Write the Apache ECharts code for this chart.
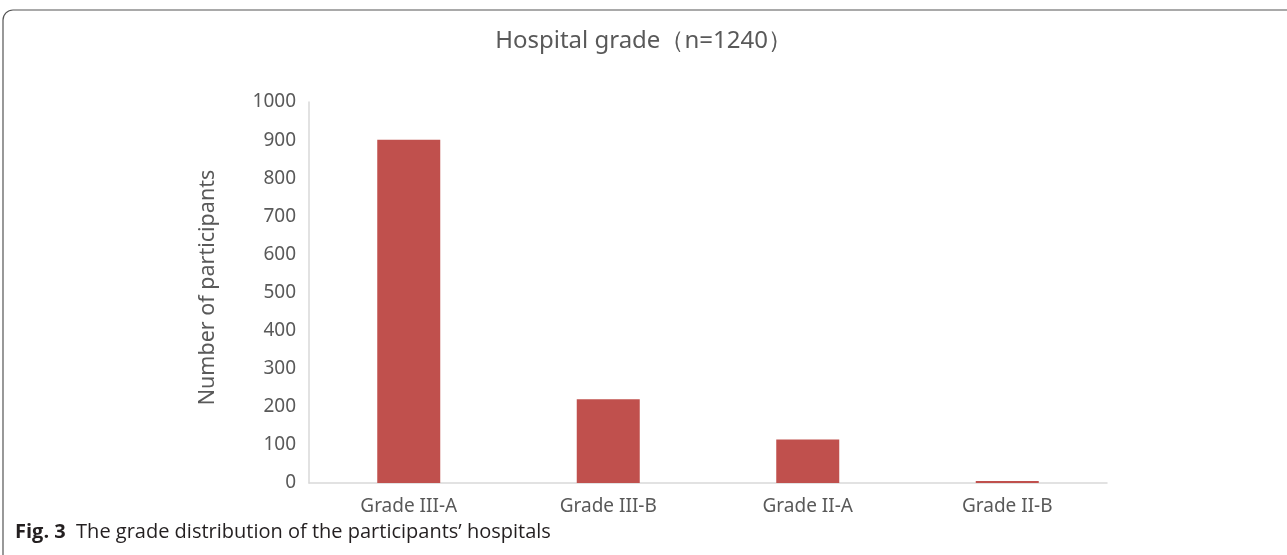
<!DOCTYPE html>
<html>
<head>
<meta charset="utf-8">
<script src="https://cdn.jsdelivr.net/npm/echarts@6/dist/echarts.min.js"></script>
<style>
  html, body { margin: 0; padding: 0; background: #fff; }
  #chart { width: 1287px; height: 555px; }
</style>
</head>
<body>
<div id="chart"></div>
<script>
// hospital grade distribution
const grades = ['Grade III-A', 'Grade III-B', 'Grade II-A', 'Grade II-B']
const participants = [901, 220, 114, 5]
const yTicks = { min: 0, max: 1000, interval: 100 }

const chart = echarts.init(document.getElementById('chart'))

chart.setOption({
  animation: false,
  title: [{
    text: 'Hospital grade（n=1240）',
    left: 'center',
    top: 24,
    textStyle: { fontFamily: 'Noto Sans', fontSize: 24, fontWeight: 'normal', color: '#595959' }
  }, {
    text: '{b|Fig. 3}  The grade distribution of the participants’ hospitals',
    left: 10,
    top: 517,
    textStyle: {
      fontFamily: 'Open Sans', fontSize: 20, fontWeight: 'normal', color: '#231f20',
      rich: {
        b: { fontFamily: 'Open Sans', fontSize: 20, fontWeight: 'bold', color: '#231f20' }
      }
    }
  }],
  graphic: [{
    type: 'rect',
    shape: { x: 3, y: 10, width: 1320, height: 600, r: 10 },
    style: { fill: 'none', stroke: '#555', lineWidth: 1.2 },
    silent: true
  }],
  grid: { left: 309, right: 180, top: 102, bottom: 72 },
  xAxis: {
    type: 'category',
    data: grades,
    axisLine: { lineStyle: { color: '#d9d9d9', width: 1.5 } },
    axisTick: { show: false },
    axisLabel: { fontFamily: 'Noto Sans', fontSize: 19, color: '#595959', margin: 14 }
  },
  yAxis: {
    type: 'value',
    min: yTicks.min,
    max: yTicks.max,
    interval: yTicks.interval,
    name: 'Number of participants',
    nameLocation: 'middle',
    nameGap: 90,
    nameTextStyle: { fontFamily: 'Noto Sans', fontSize: 21.5, color: '#595959', padding: [0, 0, 0, 10] },
    axisLine: { show: true, lineStyle: { color: '#d9d9d9', width: 1.5 } },
    axisTick: { show: false },
    splitLine: { show: false },
    axisLabel: {
      fontFamily: 'Noto Sans', fontSize: 19, color: '#595959', margin: 13,
      formatter: v => String(v)
    }
  },
  series: [{
    type: 'bar',
    data: participants,
    barWidth: 63,
    itemStyle: { color: '#c0504d' }
  }]
})
</script>
</body>
</html>
